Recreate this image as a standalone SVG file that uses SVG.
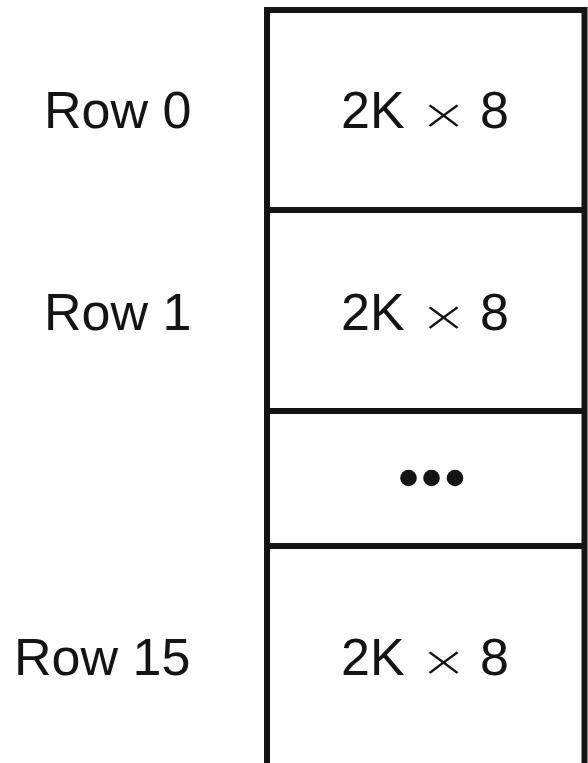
<svg xmlns="http://www.w3.org/2000/svg" width="588" height="763" viewBox="0 0 588 763">
  <style>
    .frame { fill: none; stroke: #141414; stroke-width: 6; }
    .lbl { font-family: "Liberation Sans", Arial, sans-serif; font-size: 52px; fill: #141414; }
    .times { font-family: "DejaVu Sans", sans-serif; font-weight: 200; font-size: 43px; fill: #141414; }
    .dot { fill: #141414; }
  </style>
  <rect x="0" y="0" width="588" height="763" fill="#ffffff"/>
  <g id="frame">
    <path class="frame" d="M267,763 V10 H584.5 V763"/>
  </g>
  <g id="row0">
    <path class="frame" d="M267,210 H584.5"/>
    <text class="lbl" x="44" y="128">Row 0</text>
    <text class="lbl" x="341" y="128">2K</text>
    <text class="times" text-anchor="middle" transform="translate(443.5 129) scale(1.35 1)">×</text>
    <text class="lbl" x="480" y="128">8</text>
  </g>
  <g id="row1">
    <path class="frame" d="M267,411 H584.5"/>
    <text class="lbl" x="44" y="330">Row 1</text>
    <text class="lbl" x="341" y="330">2K</text>
    <text class="times" text-anchor="middle" transform="translate(443.5 331) scale(1.35 1)">×</text>
    <text class="lbl" x="480" y="330">8</text>
  </g>
  <g id="ellipsis">
    <path class="frame" d="M267,546 H584.5"/>
    <circle class="dot" cx="408.5" cy="478" r="8.3"/>
    <circle class="dot" cx="431.5" cy="478" r="8.3"/>
    <circle class="dot" cx="455" cy="478" r="8.3"/>
  </g>
  <g id="row15">
    <text class="lbl" x="14" y="675">Row 15</text>
    <text class="lbl" x="341" y="675">2K</text>
    <text class="times" text-anchor="middle" transform="translate(443.5 676) scale(1.35 1)">×</text>
    <text class="lbl" x="480" y="675">8</text>
  </g>
  <g id="connectors"></g>
</svg>
